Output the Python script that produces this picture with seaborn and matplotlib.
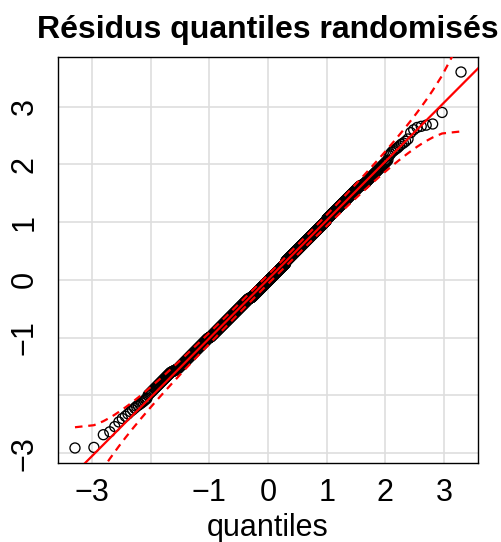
import numpy as np
import pandas as pd
import seaborn as sns
import matplotlib.pyplot as plt
from statistics import NormalDist

# Taille de l'échantillon (1000 résidus)
n_obs = 1000

# Plus petits résidus (ordre croissant)
low_tail = [-2.91, -2.90, -2.68, -2.63, -2.54, -2.46, -2.40, -2.36, -2.32, -2.28,
            -2.25, -2.22, -2.19, -2.17, -2.15, -2.13, -2.11, -2.09, -2.07, -2.05]
# Plus grands résidus (ordre décroissant)
high_tail = [3.60, 2.90, 2.70, 2.68, 2.66, 2.64, 2.60, 2.55, 2.44, 2.40,
             2.37, 2.35, 2.32, 2.29, 2.27, 2.25, 2.23, 2.21, 2.18, 2.15]

# Corps de l'échantillon : décalage de la bande noire par rapport à la droite
band_edges = [-2.1, -1.6, -1.0, -0.3, 0.3, 1.0, 1.6, 2.1]
band_shift = [0.08, 0.02, 0.0, -0.03, 0.0, 0.02, -0.02]

# Droite de référence (quartiles)
line_intercept = 0.01
line_slope = 1.02
envelope = 0.95

x_ticks = [-3, -2, -1, 0, 1, 2, 3]
x_labels = ["\u22123", "", "\u22121", "0", "1", "2", "3"]
y_ticks = [-3, -2, -1, 0, 1, 2, 3]
y_labels = ["\u22123", "", "\u22121", "0", "1", "2", "3"]

# quantiles théoriques
nd = NormalDist()
P = (np.arange(1, n_obs + 1) - 0.5) / n_obs
z = np.array([nd.inv_cdf(p) for p in P])

k = len(low_tail)
body_z = z[k:n_obs - len(high_tail)]
shift = np.array(band_shift)[np.clip(np.digitize(body_z, band_edges) - 1, 0, len(band_shift) - 1)]
body = line_intercept + line_slope * body_z + shift
sample = np.sort(np.concatenate([low_tail, body, high_tail[::-1]]))

df = pd.DataFrame({"z": z, "resid": sample})

# enveloppe de confiance
dens = np.array([nd.pdf(v) for v in z])
zz = nd.inv_cdf(1 - (1 - envelope) / 2)
SE = (line_slope / dens) * np.sqrt(P * (1 - P) / n_obs)
fit = line_intercept + line_slope * z
env = pd.DataFrame({"z": z, "upper": fit + zz * SE, "lower": fit - zz * SE})

sns.set_style("white")
plt.rcParams["font.family"] = ["Liberation Sans", "DejaVu Sans"]
plt.rcParams["text.color"] = "black"
plt.rcParams["xtick.color"] = "black"
plt.rcParams["ytick.color"] = "black"
plt.rcParams["lines.dashed_pattern"] = [3.4, 2.6]

fig = plt.figure(figsize=(5.01, 5.42), dpi=100)
ax = fig.add_axes([58 / 501, 1 - 463 / 542, 420 / 501, 406 / 542])

ax.set_xlim(-3.58, 3.58)
ax.set_ylim(-3.17, 3.86)
ax.set_xticks(x_ticks)
ax.set_xticklabels(x_labels)
ax.set_yticks(y_ticks)
ax.set_yticklabels(y_labels, rotation=90, va="center")
ax.grid(True, color="#dedede", lw=1.2)
ax.set_axisbelow(True)
for s in ax.spines.values():
    s.set_color("black")
    s.set_linewidth(1.0)
ax.tick_params(axis="both", direction="out", length=6, width=0.9,
               color="black", labelcolor="black", labelsize=22)
ax.tick_params(axis="x", pad=5)
ax.tick_params(axis="y", pad=7)

sns.scatterplot(data=df, x="z", y="resid", ax=ax, marker="o", s=52,
                facecolor="none", edgecolor="black", linewidth=0.95, zorder=3)

xl = np.array([-3.6, 3.6])
sns.lineplot(x=xl, y=line_intercept + line_slope * xl, ax=ax, color="red",
             lw=1.6, zorder=4, sort=False, estimator=None, errorbar=None)
sns.lineplot(data=env, x="z", y="upper", ax=ax, color="red", lw=1.6, linestyle="--",
             zorder=4, sort=False, estimator=None, errorbar=None)
sns.lineplot(data=env, x="z", y="lower", ax=ax, color="red", lw=1.6, linestyle="--",
             zorder=4, sort=False, estimator=None, errorbar=None)

ax.set_xlabel("")
ax.set_ylabel("")
ax.set_title("Résidus quantiles randomisés", fontsize=23, fontweight="bold",
             color="black", pad=14)
fig.text(268 / 501, 1 - 536 / 542, "quantiles", ha="center", va="baseline",
         fontsize=22, color="black")

fig.savefig("out.png", dpi=100)
